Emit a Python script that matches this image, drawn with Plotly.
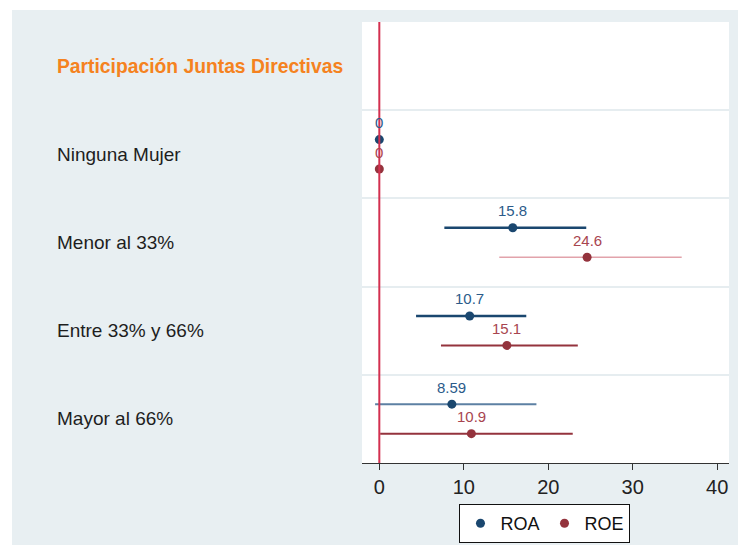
import plotly.graph_objects as go

# ---- data ----
categories = ["Ninguna Mujer", "Menor al 33%", "Entre 33% y 66%", "Mayor al 66%"]
header = "Participación Juntas Directivas"

roa_est = [0, 15.8, 10.7, 8.59]
roa_lo = [None, 7.7, 4.35, -0.5]
roa_hi = [None, 24.5, 17.4, 18.6]
roa_text = ["0", "15.8", "10.7", "8.59"]

roe_est = [0, 24.6, 15.1, 10.9]
roe_lo = [None, 14.2, 7.3, 0.1]
roe_hi = [None, 35.8, 23.5, 22.9]
roe_text = ["0", "24.6", "15.1", "10.9"]

x_ticks = [0, 10, 20, 30, 40]

# ---- styling ----
FONT = "Liberation Sans, Arial, sans-serif"
NAVY = "#1a476f"
MAROON = "#94333d"
CI_ROA = ["#1a476f", "#1a476f", "#1a476f", "#5d80a3"]
CI_ROE = ["#94333d", "#e2a3ab", "#94333d", "#94333d"]
CI_W_ROA = [2, 2.5, 2.5, 2]
CI_W_ROE = [2, 1.5, 2, 2]
BG = "#e8eff2"

n = len(categories)
centers = [n - 0.5 - i for i in range(n)]  # 3.5, 2.5, 1.5, 0.5
off = 0.167
roa_y = [c + off for c in centers]
roe_y = [c - off for c in centers]

fig = go.Figure()

# confidence intervals
for i in range(n):
    if roa_lo[i] is not None:
        fig.add_trace(go.Scatter(x=[roa_lo[i], roa_hi[i]], y=[roa_y[i], roa_y[i]], mode="lines",
                                 line=dict(color=CI_ROA[i], width=CI_W_ROA[i]), showlegend=False,
                                 hoverinfo="skip"))
    if roe_lo[i] is not None:
        fig.add_trace(go.Scatter(x=[roe_lo[i], roe_hi[i]], y=[roe_y[i], roe_y[i]], mode="lines",
                                 line=dict(color=CI_ROE[i], width=CI_W_ROE[i]), showlegend=False,
                                 hoverinfo="skip"))

# point estimates
fig.add_trace(go.Scatter(x=roa_est, y=roa_y, mode="markers", name="ROA",
                         marker=dict(color=NAVY, size=9)))
fig.add_trace(go.Scatter(x=roe_est, y=roe_y, mode="markers", name="ROE",
                         marker=dict(color=MAROON, size=9)))

annotations = []
# value labels
for i in range(n):
    annotations.append(dict(x=roa_est[i], y=roa_y[i], xref="x", yref="y", text=roa_text[i],
                            showarrow=False, yshift=17, font=dict(family=FONT, size=15, color="#2b5b8a")))
    annotations.append(dict(x=roe_est[i], y=roe_y[i], xref="x", yref="y", text=roe_text[i],
                            showarrow=False, yshift=17, font=dict(family=FONT, size=15, color="#a8454f")))

# left labels
LX = (55 - 362) / 367
annotations.append(dict(x=LX, y=n + 0.5, xref="paper", yref="y", text="<b>" + header + "</b>",
                        xanchor="left", showarrow=False,
                        font=dict(family=FONT, size=19.3, color="#f58220")))
for i in range(n):
    annotations.append(dict(x=LX, y=centers[i], xref="paper", yref="y", text=categories[i],
                            xanchor="left", showarrow=False,
                            font=dict(family=FONT, size=19, color="#1e1e1e")))

shapes = [
    # outer light background
    dict(type="rect", xref="paper", yref="paper", x0=(12 - 362) / 367, x1=(740 - 362) / 367,
         y0=(463 - 547) / 441, y1=(463 - 10) / 441, fillcolor=BG, line=dict(width=0), layer="below"),
    # plot area white
    dict(type="rect", xref="paper", yref="paper", x0=0, x1=1, y0=0, y1=1,
         fillcolor="white", line=dict(width=0), layer="below"),
    # reference line at zero
    dict(type="line", xref="x", yref="paper", x0=0, x1=0, y0=0, y1=1,
         line=dict(color="#d3304f", width=2)),
]

fig.update_layout(
    width=738, height=545,
    margin=dict(l=362, r=9, t=22, b=82, autoexpand=False),
    paper_bgcolor="white",
    plot_bgcolor="rgba(0,0,0,0)",
    font=dict(family=FONT, color="#222"),
    annotations=annotations,
    shapes=shapes,
    showlegend=True,
    legend=dict(orientation="h", x=0.4986, xanchor="center", y=(463 - 504) / 441, yanchor="top",
                bgcolor="white", bordercolor="#111", borderwidth=1,
                font=dict(family=FONT, size=18, color="#111"), itemwidth=30,
                tracegroupgap=0),
    xaxis=dict(range=[-2.05, 41.4], tickvals=x_ticks, ticks="outside", ticklen=6, tickwidth=1,
               tickcolor="#333", showline=True, linecolor="#333", linewidth=1, showgrid=False,
               zeroline=False, tickfont=dict(family=FONT, size=20, color="#222")),
    yaxis=dict(range=[0, n + 1], tickvals=[1, 2, 3, 4], showticklabels=False, showgrid=True,
               gridcolor="#e6edf0", gridwidth=2, zeroline=False, showline=False, ticks=""),
)

fig.write_html("out.html",
               config={"displayModeBar": False},
               post_script="document.body.style.margin='0';document.body.style.overflow='hidden';")
